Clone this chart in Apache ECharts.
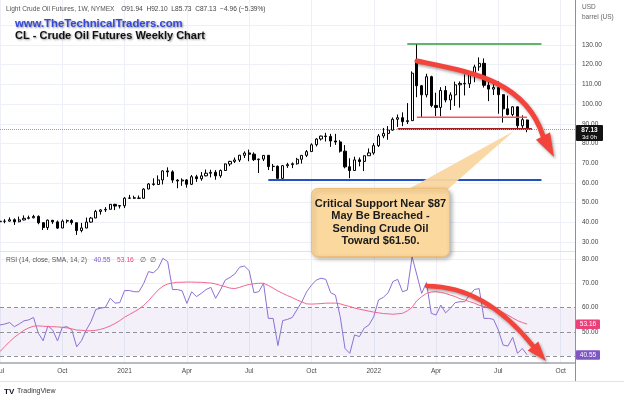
<!DOCTYPE html>
<html>
<head>
<meta charset="utf-8">
<script src="https://cdn.jsdelivr.net/npm/echarts@6/dist/echarts.min.js"></script>
<style>
html,body{margin:0;padding:0;background:#fff}
#main{width:624px;height:399px}
</style>
</head>
<body>
<div id="main"></div>
<script>
// weekly CL candles, first bar = week of 2020-07-06
var opens = [40.3,40.5,40.6,41.3,40.3,41.2,42.0,42.3,43.0,39.8,
    37.3,41.0,40.2,37.1,40.6,40.9,39.8,35.8,37.1,40.1,
    42.2,45.5,46.3,46.6,49.1,48.2,48.4,52.2,52.4,52.3,
    52.2,56.9,59.5,59.2,61.5,66.1,65.6,61.4,61.0,61.5,
    59.3,63.1,62.1,63.6,64.9,65.4,63.6,66.3,69.6,70.9,
    71.6,74.0,75.2,74.6,71.8,72.1,74.0,68.3,68.4,62.3,
    68.7,69.3,69.7,72.0,74.0,75.9,79.4,82.3,83.8,83.6,
    81.3,80.8,76.1,68.2,66.3,71.7,70.9,73.8,75.2,78.9,
    83.8,85.1,86.8,92.3,93.1,91.1,91.6,121.0,109.3,104.7,
    113.9,99.3,98.3,106.9,102.1,104.7,109.8,110.5,110.3,115.1,
    118.9,120.7,109.6,107.6,108.4,104.8,97.6,94.7,98.6,89.0,
    91.94];
var highs = [41.3,41.6,42.5,42.0,42.9,43.5,43.4,43.8,43.5,39.9,
    41.4,41.2,40.9,41.4,41.4,41.6,39.8,39.7,42.4,42.7,
    46.3,46.7,47.7,49.3,49.4,48.6,52.8,53.9,53.5,53.6,
    57.3,59.9,62.3,63.8,66.4,67.9,66.4,61.9,62.3,61.9,
    64.0,64.1,65.5,66.8,66.7,66.5,66.8,69.8,71.2,72.9,
    74.2,76.0,76.9,75.5,72.3,74.1,74.0,69.6,68.9,69.1,
    70.2,70.4,72.7,74.0,76.7,80.1,82.7,84.0,85.4,84.9,
    84.9,81.7,79.2,72.5,73.3,72.9,73.9,77.5,80.2,84.8,
    87.9,88.8,93.2,94.7,95.8,100.5,116.6,130.5,109.7,115.4,
    114.4,105.8,108.6,109.2,106.0,111.4,111.5,115.0,115.1,120.0,
    123.7,123.2,111.8,112.0,111.5,105.0,104.3,99.0,98.8,94.3,
    92.10];
var lows = [39.0,39.5,40.3,38.7,40.0,41.0,41.5,42.0,39.0,36.1,
    36.1,39.2,36.6,37.0,39.5,38.8,33.6,34.9,37.0,39.8,
    42.1,43.9,45.2,46.5,46.2,47.0,47.2,51.8,51.9,51.8,
    52.0,56.8,58.6,59.0,59.2,63.1,60.0,57.3,58.5,57.6,
    58.9,60.5,61.1,63.3,62.8,61.6,62.6,66.1,68.5,70.1,
    70.6,72.6,71.0,71.1,65.0,71.1,66.5,66.0,61.7,62.1,
    67.6,67.5,69.3,69.8,73.1,75.8,78.5,81.5,81.0,78.3,
    79.3,75.4,67.4,62.4,66.1,68.4,66.0,73.8,74.3,78.2,
    82.7,81.9,86.5,88.4,88.8,89.9,91.5,103.5,93.5,103.4,
    98.4,93.9,93.8,100.9,97.0,99.1,98.2,104.4,108.2,111.1,
    116.9,108.4,101.5,104.6,95.1,90.6,94.3,93.8,87.0,87.4,
    85.73];
var closes = [40.55,40.59,41.29,40.27,41.22,42.01,42.34,42.97,39.77,37.33,
    41.11,40.25,37.05,40.60,40.88,39.85,35.79,37.14,40.13,42.15,
    45.53,46.26,46.57,49.10,48.23,48.52,52.24,52.36,52.27,52.20,
    56.85,59.47,59.24,61.50,66.09,65.61,61.42,60.97,61.45,59.32,
    63.13,62.14,63.58,64.90,65.37,63.58,66.32,69.62,70.91,71.64,
    74.05,75.16,74.56,71.81,72.07,73.95,68.28,68.44,62.32,68.74,
    69.29,69.72,71.97,73.98,75.88,79.35,82.28,83.76,83.57,81.27,
    80.79,76.10,68.15,66.26,71.67,70.86,73.79,75.21,78.90,83.82,
    85.14,86.82,92.31,93.10,91.07,91.59,115.68,109.33,104.70,113.90,
    99.27,98.26,106.95,102.07,104.69,109.77,110.49,110.28,115.07,118.87,
    120.67,109.56,107.62,108.43,104.79,97.59,94.70,98.62,89.01,92.09,
    87.13];

var rsi = [52.8,53.2,53.8,52.1,53.2,54.5,54.9,55.9,49.4,46.3,
    52.4,50.7,46.2,51.8,52.1,50.7,43.8,46.3,50.7,54.2,
    59.2,59.7,60.1,63.8,61.8,62.0,67.0,67.0,66.5,66.5,
    70.0,74.8,74.3,76.1,80.3,78.9,67.4,67.4,66.9,61.7,
    66.5,64.5,65.8,67.4,68.3,63.8,67.2,71.3,72.4,73.8,
    76.6,77.1,75.2,66.1,66.5,70.0,55.5,55.5,44.3,54.6,
    55.1,55.9,59.2,62.4,66.5,69.2,71.3,72.1,71.6,66.1,
    65.1,56.2,43.1,41.1,48.7,48.0,51.5,52.8,56.2,63.1,
    64.2,66.1,70.7,71.6,66.5,67.2,80.9,73.4,65.8,70.3,
    57.6,56.9,61.0,57.8,59.7,62.0,62.4,62.4,65.1,67.4,
    67.8,55.5,55.5,55.1,50.7,44.5,44.1,47.7,41.1,43.1,
    40.55];
var rsiSma = [41.8,43.9,45.9,47.7,49.2,50.6,51.6,52.3,52.4,52.3,
    52.1,52.1,52.0,51.8,51.6,51.2,50.7,50.6,50.4,50.4,
    50.6,51.0,51.6,52.4,53.4,54.6,56.0,57.1,58.2,59.4,
    60.9,62.8,65.1,67.2,68.8,69.7,70.1,70.4,70.4,70.5,
    70.5,70.4,70.4,70.2,70.1,69.7,69.1,68.6,68.0,67.8,
    68.3,69.0,69.5,69.8,70.0,70.0,69.1,68.0,66.8,65.8,
    64.9,64.1,63.1,62.3,61.5,61.4,61.5,61.6,61.8,61.8,
    61.8,61.5,60.9,60.4,59.8,59.3,58.9,58.5,58.1,57.8,
    57.5,57.4,57.2,57.4,57.6,58.6,60.1,62.8,64.5,65.8,
    66.4,66.5,66.2,65.8,65.1,64.5,63.6,63.1,62.4,61.8,
    60.9,60.4,59.8,59.4,58.7,57.9,56.8,55.7,54.6,53.8,
    53.16];

var tickLabels = ['Jul', 'Oct', '2021', 'Apr', 'Jul', 'Oct', '2022', 'Apr', 'Jul', 'Oct'];

// drawn support / resistance levels (price, first week, last week)
var levelPrices = [130.5, 93.3, 87.4, 61.5];
var levelFrom = [85, 87, 83, 56];
var levelTo = [113, 110, 111, 113];
var levelColors = ['#2f9a3c', '#f5545a', '#a11b20', '#2450c6'];
var levelWidths = [1.5, 1.5, 2, 2];

var weeks = [];
(function () {
    var d = new Date(Date.UTC(2020, 6, 6));
    for (var i = 0; i < 121; i++) {
        weeks.push(d.toISOString().slice(0, 10));
        d.setUTCDate(d.getUTCDate() + 7);
    }
})();

var font = '"Liberation Sans", Arial, sans-serif';
var gridColor = '#edf1f7';
var red = '#f4433b';

var candles = opens.map(function (o, i) {
    return [o, closes[i], lows[i], highs[i]];
});

var levelSeries = levelPrices.map(function (p, k) {
    return {
        type: 'line',
        xAxisIndex: 1,
        yAxisIndex: 1,
        silent: true,
        symbol: 'none',
        z: 4,
        lineStyle: {color: levelColors[k], width: levelWidths[k]},
        data: [[levelFrom[k], p], [levelTo[k], p]]
    };
});

var chart = echarts.init(document.getElementById('main'));
var option = {
    animation: false,
    backgroundColor: '#ffffff',
    grid: [
        {left: 0, right: 49, top: 0, height: 363, containLabel: false, outerBoundsMode: 'none'},
        {left: 0, right: 49, top: 5.6, height: 236.4, containLabel: false, outerBoundsMode: 'none'},
        {left: 0, right: 49, top: 234.75, height: 145.5, containLabel: false, outerBoundsMode: 'none'}
    ],
    xAxis: [
        {
            gridIndex: 0, type: 'category', data: weeks, boundaryGap: false,
            axisLine: {show: true, onZero: false, lineStyle: {color: '#b8bbc4', width: 2}},
            axisTick: {show: false},
            axisLabel: {
                interval: 12, margin: 5, fontSize: 6.6, color: '#4a4a4a', fontFamily: font,
                formatter: function (v, i) { return tickLabels[i / 13] || ''; }
            },
            splitLine: {show: true, interval: 12, lineStyle: {color: gridColor, width: 1}}
        },
        {gridIndex: 1, type: 'category', data: weeks, boundaryGap: false, show: false},
        {gridIndex: 2, type: 'category', data: weeks, boundaryGap: false, show: false}
    ],
    yAxis: [
        {gridIndex: 0, type: 'value', show: false},
        {
            gridIndex: 1, type: 'value', position: 'right', min: 30, max: 150, interval: 10,
            axisLine: {show: false}, axisTick: {show: false},
            splitLine: {show: true, showMaxLine: false, lineStyle: {color: gridColor}},
            axisLabel: {
                margin: 7, fontSize: 6.5, color: '#444', fontFamily: font,
                formatter: function (v) { return v > 130 ? '' : v.toFixed(2); }
            }
        },
        {
            gridIndex: 2, type: 'value', position: 'right', min: 30, max: 90, interval: 10,
            axisLine: {show: false}, axisTick: {show: false},
            splitLine: {show: true, lineStyle: {color: ['rgba(0,0,0,0)', 'rgba(0,0,0,0)', 'rgba(0,0,0,0)', 'rgba(0,0,0,0)', gridColor, gridColor, 'rgba(0,0,0,0)']}},
            axisLabel: {
                margin: 7, fontSize: 6.5, color: '#444', fontFamily: font,
                formatter: function (v) { return (v < 40 || v > 80) ? '' : v.toFixed(2); }
            }
        }
    ],
    series: [
        {
            type: 'candlestick',
            xAxisIndex: 1,
            yAxisIndex: 1,
            silent: true,
            barWidth: 2.6,
            itemStyle: {color: '#ffffff', color0: '#000000', borderColor: '#000000', borderColor0: '#000000', borderColorDoji: '#000000', borderWidth: 1},
            markLine: {
                silent: true, symbol: ['none', 'none'], label: {show: false},
                lineStyle: {type: 'dotted', color: '#9a9da6', width: 1},
                data: [{yAxis: closes[closes.length - 1]}]
            },
            data: candles
        }
    ].concat(levelSeries).concat([
        {
            type: 'line',
            xAxisIndex: 2,
            yAxisIndex: 2,
            silent: true,
            symbol: 'none',
            lineStyle: {color: '#8d70d2', width: 1},
            markArea: {
                silent: true,
                itemStyle: {color: 'rgba(126,87,194,0.09)'},
                data: [[{yAxis: 40}, {yAxis: 60}]]
            },
            markLine: {
                silent: true, symbol: ['none', 'none'], label: {show: false},
                lineStyle: {type: [4, 3], color: '#8f929b', width: 1},
                data: [{yAxis: 60}, {yAxis: 50}, {yAxis: 40}]
            },
            data: rsi
        },
        {
            type: 'line',
            xAxisIndex: 2,
            yAxisIndex: 2,
            silent: true,
            symbol: 'none',
            lineStyle: {color: '#f2668f', width: 1},
            data: rsiSma
        }
    ])
};
chart.setOption(option);

function arrow(p0, c1, c2, p3, tip, w, hw) {
    var dx = tip[0] - p3[0], dy = tip[1] - p3[1];
    var len = Math.sqrt(dx * dx + dy * dy);
    var nx = -dy / len * hw, ny = dx / len * hw;
    var shadow = {shadowBlur: 3, shadowColor: 'rgba(0,0,0,0.35)', shadowOffsetX: 1.5, shadowOffsetY: 2};
    return [
        {
            type: 'bezierCurve', z: 60, silent: true,
            shape: {x1: p0[0], y1: p0[1], cpx1: c1[0], cpy1: c1[1], cpx2: c2[0], cpy2: c2[1], x2: p3[0], y2: p3[1]},
            style: Object.assign({stroke: red, lineWidth: w, fill: null, lineCap: 'round'}, shadow)
        },
        {
            type: 'polygon', z: 61, silent: true,
            shape: {points: [tip, [p3[0] + nx, p3[1] + ny], [p3[0] - nx, p3[1] - ny]]},
            style: Object.assign({fill: red}, shadow)
        }
    ];
}

var last = closes.length - 1;
var yPrice = chart.convertToPixel({yAxisIndex: 1}, closes[last]);
var yRsi = chart.convertToPixel({yAxisIndex: 2}, rsi[last]);
var ySma = chart.convertToPixel({yAxisIndex: 2}, rsiSma[last]);

var g = [
    // frame lines
    {type: 'line', z: 1, silent: true, shape: {x1: 0, y1: 251.5, x2: 575, y2: 251.5}, style: {stroke: '#e0e3eb', lineWidth: 1}},
    {type: 'line', z: 1, silent: true, shape: {x1: 0, y1: 381.5, x2: 624, y2: 381.5}, style: {stroke: '#e0e3eb', lineWidth: 1}},
    {type: 'line', z: 5, silent: true, shape: {x1: 575.5, y1: 0, x2: 575.5, y2: 381}, style: {stroke: '#8f929b', lineWidth: 1}},
    // header
    {
        type: 'text', z: 20, x: 6, y: 9.5, silent: true,
        style: {
            text: '{n|Light Crude Oil Futures, 1W, NYMEX}  {v|O91.94  H92.10  L85.73  C87.13  \u22124.96 (\u22125.39%)}',
            textVerticalAlign: 'middle',
            rich: {
                n: {fontSize: 6.6, fill: '#555', fontFamily: font},
                v: {fontSize: 6.6, fill: '#444', fontFamily: font}
            }
        }
    },
    {
        type: 'text', z: 20, x: 15, y: 23.5, silent: true,
        style: {
            text: 'www.TheTechnicalTraders.com', fill: '#3448e0',
            font: 'bold 11.3px ' + font, textVerticalAlign: 'middle',
            shadowBlur: 2, shadowColor: 'rgba(0,0,0,0.45)', shadowOffsetX: 1, shadowOffsetY: 1,
            textShadowBlur: 2, textShadowColor: 'rgba(0,0,0,0.45)', textShadowOffsetX: 1, textShadowOffsetY: 1
        }
    },
    {
        type: 'text', z: 20, x: 15, y: 36, silent: true,
        style: {
            text: 'CL - Crude Oil Futures Weekly Chart', fill: '#111',
            font: 'bold 11px ' + font, textVerticalAlign: 'middle',
            shadowBlur: 2, shadowColor: 'rgba(0,0,0,0.4)', shadowOffsetX: 1, shadowOffsetY: 1,
            textShadowBlur: 2, textShadowColor: 'rgba(0,0,0,0.4)', textShadowOffsetX: 1, textShadowOffsetY: 1
        }
    },
    // price scale unit
    {type: 'text', z: 20, x: 582, y: 7.5, silent: true, style: {text: 'USD', fill: '#666', font: '6.5px ' + font, textVerticalAlign: 'middle'}},
    {type: 'text', z: 20, x: 582, y: 17.5, silent: true, style: {text: 'barrel (US)', fill: '#666', font: '6.5px ' + font, textVerticalAlign: 'middle'}},
    // last price tag
    {type: 'rect', z: 30, silent: true, shape: {x: 576, y: yPrice - 4.5, width: 27, height: 16, r: 1}, style: {fill: '#131313'}},
    {type: 'text', z: 31, x: 589.5, y: yPrice + 0.5, silent: true, style: {text: closes[last].toFixed(2), fill: '#fff', font: 'bold 6.5px ' + font, textAlign: 'center', textVerticalAlign: 'middle'}},
    {type: 'text', z: 31, x: 589.5, y: yPrice + 7.5, silent: true, style: {text: '3d 0h', fill: '#fff', font: '6px ' + font, textAlign: 'center', textVerticalAlign: 'middle'}},
    // rsi tags
    {type: 'rect', z: 30, silent: true, shape: {x: 576, y: ySma - 4.5, width: 24, height: 9.5, r: 1}, style: {fill: '#eb3f7a'}},
    {type: 'text', z: 31, x: 588, y: ySma + 0.3, silent: true, style: {text: rsiSma[last].toFixed(2), fill: '#fff', font: '6.5px ' + font, textAlign: 'center', textVerticalAlign: 'middle'}},
    {type: 'rect', z: 30, silent: true, shape: {x: 576, y: yRsi - 4.5, width: 24, height: 9.5, r: 1}, style: {fill: '#7e57c2'}},
    {type: 'text', z: 31, x: 588, y: yRsi + 0.3, silent: true, style: {text: rsi[last].toFixed(2), fill: '#fff', font: '6.5px ' + font, textAlign: 'center', textVerticalAlign: 'middle'}},
    // rsi legend
    {
        type: 'text', z: 20, x: 6, y: 260, silent: true,
        style: {
            text: '{a|RSI (14, close, SMA, 14, 2)}  {b|' + rsi[last].toFixed(2) + '}  {c|' + rsiSma[last].toFixed(2) + '}  {a|\u2205  \u2205}',
            textVerticalAlign: 'middle',
            rich: {
                a: {fontSize: 6.7, fill: '#555', fontFamily: font},
                b: {fontSize: 6.7, fill: '#7e57c2', fontFamily: font},
                c: {fontSize: 6.7, fill: '#eb3f7a', fontFamily: font}
            }
        }
    },
    // callout
    {type: 'polygon', z: 40, silent: true, shape: {points: [[403, 192], [447, 190], [514, 131]]}, style: {fill: '#f9d6a0', opacity: 0.95}},
    {
        type: 'rect', z: 41, silent: true,
        shape: {x: 311.5, y: 188.5, width: 138, height: 68, r: 6},
        style: {fill: '#fbd89e', stroke: '#efbf77', lineWidth: 1, shadowBlur: 4, shadowColor: 'rgba(0,0,0,0.3)', shadowOffsetX: 2, shadowOffsetY: 2}
    },
    {
        type: 'text', z: 42, x: 380.5, y: 222.5, silent: true,
        style: {
            text: 'Critical Support Near $87\nMay Be Breached -\nSending Crude Oil\nToward $61.50.',
            fill: '#1a1a1a', font: 'bold 11px ' + font, lineHeight: 12.6,
            textAlign: 'center', textVerticalAlign: 'middle'
        }
    },
    // branding
    {type: 'text', z: 20, x: 4, y: 391.5, silent: true, style: {text: 'TV', fill: '#131722', font: 'bold 8px ' + font, textVerticalAlign: 'middle'}},
    {type: 'text', z: 20, x: 17, y: 391.5, silent: true, style: {text: 'TradingView', fill: '#333', font: '7px ' + font, textVerticalAlign: 'middle'}}
];

g = g.concat(arrow([417, 61], [470, 72], [525, 80], [543, 136], [554, 157], 5, 8));
g = g.concat(arrow([427, 286], [465, 286], [500, 305], [533, 346], [546, 361], 4.5, 7));

chart.setOption({graphic: g});
</script>
</body>
</html>
